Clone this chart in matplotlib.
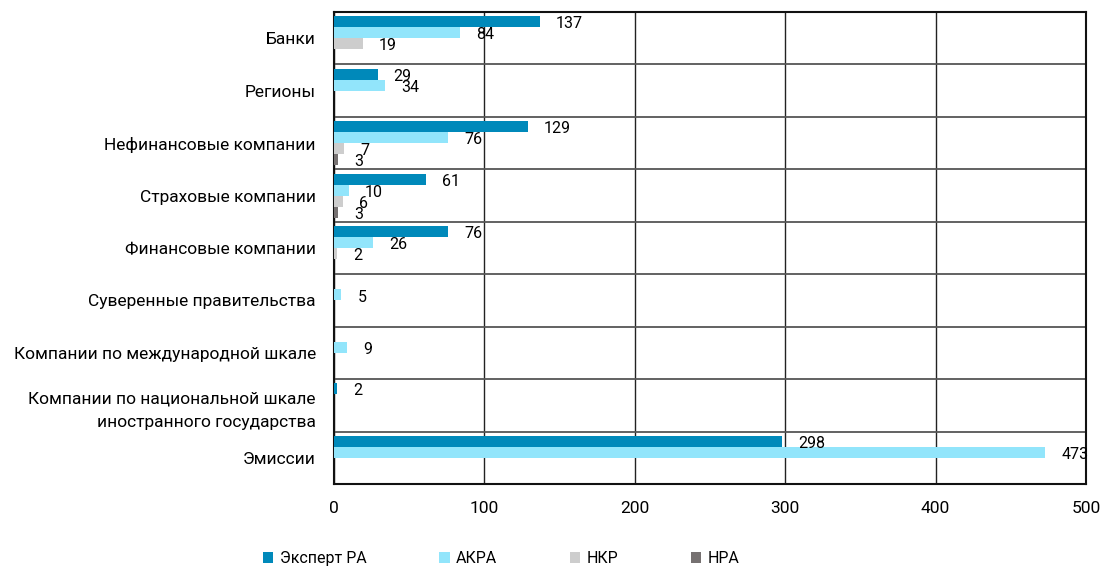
import numpy as np
import matplotlib
matplotlib.use('Agg')
from matplotlib import pyplot as plt
from matplotlib.patches import Patch

plt.rcParams['font.family'] = ['Roboto', 'DejaVu Sans']
plt.rcParams['font.size'] = 11.5

categories = ['Банки', 'Регионы', 'Нефинансовые компании', 'Страховые компании',
              'Финансовые компании', 'Суверенные правительства',
              'Компании по международной шкале',
              'Компании по национальной шкале\nиностранного государства',
              'Эмиссии']
series_names = ['Эксперт РА', 'АКРА', 'НКР', 'НРА']
expert_ra = [137, 29, 129, 61, 76, 0, 0, 2, 298]
acra = [84, 34, 76, 10, 26, 5, 9, 0, 473]
nkr = [19, 0, 7, 6, 2, 0, 0, 0, 0]
nra = [0, 0, 3, 3, 0, 0, 0, 0, 0]
colors = ['#0089BA', '#92E5FB', '#CDCDCD', '#767171']
x_ticks = [0, 100, 200, 300, 400, 500]

fig = plt.figure(figsize=(11.04, 5.66), dpi=100)
ax = fig.add_axes([0.3025, 0.1449, 0.9837 - 0.3025, 0.9788 - 0.1449])

y = np.arange(len(categories))
h = 0.21
all_series = [expert_ra, acra, nkr, nra]
for i, (vals, c) in enumerate(zip(all_series, colors)):
    pos = y + (i - 1.5) * h
    ax.barh(pos, vals, height=h, color=c, zorder=3)
    for p, v in zip(pos, vals):
        if v == 0:
            continue
        ax.annotate(str(v), (v, p), xytext=(11.5, -1.5), textcoords='offset points',
                    ha='left', va='center', fontsize=11.5, zorder=4)

ax.set_xlim(0, 500)
ax.set_ylim(len(categories) - 0.5, -0.5)
ax.set_xticks(x_ticks)
ax.set_xticklabels([str(t) for t in x_ticks], fontsize=12.5)
ax.set_yticks(y)
ax.set_yticklabels(categories, fontsize=12.5, linespacing=1.7)
ax.set_yticks(np.arange(len(categories) - 1) + 0.5, minor=True)
ax.tick_params(axis='both', which='both', length=0)
ax.tick_params(axis='x', pad=12)
ax.tick_params(axis='y', pad=13)
ax.grid(axis='x', which='major', color='#222222', linewidth=1, zorder=1)
ax.grid(axis='y', which='minor', color='#555555', linewidth=1.3, zorder=1)
for s in ax.spines.values():
    s.set_linewidth(1.5)
    s.set_color('#111111')

handles = [Patch(facecolor=c, edgecolor='none', label=n) for c, n in zip(colors, series_names)]
fig.legend(handles=handles, loc='lower left', bbox_to_anchor=(0.231, -0.014), ncol=4,
           frameon=False, handlelength=0.65, handleheight=0.65, handletextpad=0.4,
           columnspacing=4.55, borderpad=0, fontsize=11.5)

fig.savefig('out.png', dpi=100)
